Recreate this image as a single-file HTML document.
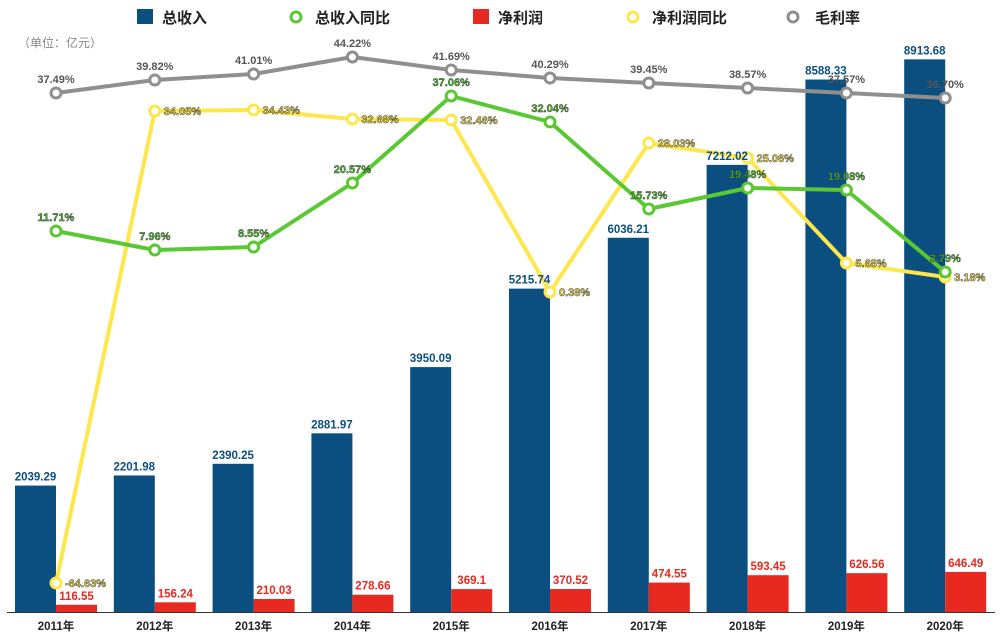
<!DOCTYPE html>
<html><head><meta charset="utf-8"><style>
body{margin:0;background:#fff}
svg{display:block;font-family:"Liberation Sans","Noto Sans CJK SC",sans-serif;font-weight:bold}
</style></head><body>
<svg id="c" width="1000" height="637" viewBox="0 0 1000 637" xmlns="http://www.w3.org/2000/svg">
<rect width="1000" height="637" fill="#fff"/>
<g font-size="15" fill="#222">
<rect x="137" y="9" width="16" height="15" fill="#0b4f80"/><text x="162" y="23">总收入</text>
<circle cx="296" cy="17" r="5" fill="#fff" stroke="#5ac832" stroke-width="3"/><text x="315" y="23">总收入同比</text>
<rect x="473" y="9" width="16" height="15" fill="#e8291f"/><text x="498" y="23">净利润</text>
<circle cx="633" cy="17" r="5" fill="#fff" stroke="#fde74c" stroke-width="3"/><text x="652" y="23">净利润同比</text>
<circle cx="793" cy="17" r="5" fill="#fff" stroke="#8f8f8f" stroke-width="3"/><text x="815" y="23">毛利率</text>
</g>
<text x="18" y="47" font-size="12" fill="#888" font-weight="normal">（单位：亿元）</text>
<line x1="7" y1="612.5" x2="995" y2="612.5" stroke="#333" stroke-width="1"/>
<g id="g"></g>
</svg>
<script>
var g=document.getElementById('g'),h='',t='';
var rev=[2039.29,2201.98,2390.25,2881.97,3950.09,5215.74,6036.21,7212.02,8588.33,8913.68];
var net=[116.55,156.24,210.03,278.66,369.1,370.52,474.55,593.45,626.56,646.49];
var gm=[[93,'37.49%'],[80,'39.82%'],[74,'41.01%'],[57,'44.22%'],[70,'41.69%'],[78,'40.29%'],[83,'39.45%'],[88,'38.57%'],[93,'37.57%'],[98,'36.70%']];
var ry=[[231,'11.71%'],[250,'7.96%'],[247,'8.55%'],[183,'20.57%'],[96,'37.06%'],[122,'32.04%'],[209,'15.73%'],[188,'19.48%'],[190,'19.08%'],[272,'3.79%']];
var ny=[[583,'-64.63%'],[111,'34.05%'],[110,'34.43%'],[119,'32.68%'],[120,'32.46%'],[292,'0.38%'],[143,'28.03%'],[158,'25.06%'],[263,'5.68%'],[277,'3.18%']];
var s=0.0620,B=612;
for(var i=0;i<10;i++){var c=56+98.8*i;
var hb=rev[i]*s,hr=net[i]*s;
h+='<rect x="'+(c-41)+'" y="'+(B-hb)+'" width="41" height="'+hb+'" fill="#0b4f80"/>';
h+='<rect x="'+c+'" y="'+(B-hr)+'" width="41" height="'+hr+'" fill="#e8291f"/>';
t+='<text x="'+(c-20.5)+'" y="'+(B-hb-5)+'" font-size="11.5" fill="#0b4f80" text-anchor="middle">'+rev[i]+'</text>';
t+='<text x="'+(c+20.5)+'" y="'+(B-hr-5)+'" font-size="11.5" fill="#e8291f" text-anchor="middle">'+net[i]+'</text>';
t+='<text x="'+c+'" y="630" font-size="11.5" fill="#222" text-anchor="middle">'+(2011+i)+'年</text>';}
function line(d,col){var p=d.map(function(v,i){return (56+98.8*i)+','+v[0]}).join(' ');
var r='<polyline points="'+p+'" fill="none" stroke="'+col+'" stroke-width="4" stroke-linejoin="round"/>';
d.forEach(function(v,i){r+='<circle cx="'+(56+98.8*i)+'" cy="'+v[0]+'" r="5" fill="#fff" stroke="'+col+'" stroke-width="3"/>'});return r;}
h+=line(ny,'#fde74c')+line(ry,'#5ac832')+line(gm,'#8f8f8f');
h+=t;
gm.forEach(function(v,i){h+='<text x="'+(56+98.8*i)+'" y="'+(v[0]-10)+'" font-size="11" fill="#555" text-anchor="middle">'+v[1]+'</text>'});
ry.forEach(function(v,i){h+='<text x="'+(56+98.8*i)+'" y="'+(v[0]-10)+'" font-size="11" fill="#4cbb28" stroke="#333" stroke-width="0.4" text-anchor="middle">'+v[1]+'</text>'});
ny.forEach(function(v,i){h+='<text x="'+(56+98.8*i+9)+'" y="'+(v[0]+4)+'" font-size="11" fill="#f5dc3c" stroke="#444" stroke-width="0.5">'+v[1]+'</text>'});
g.innerHTML=h;
</script>
</body></html>
